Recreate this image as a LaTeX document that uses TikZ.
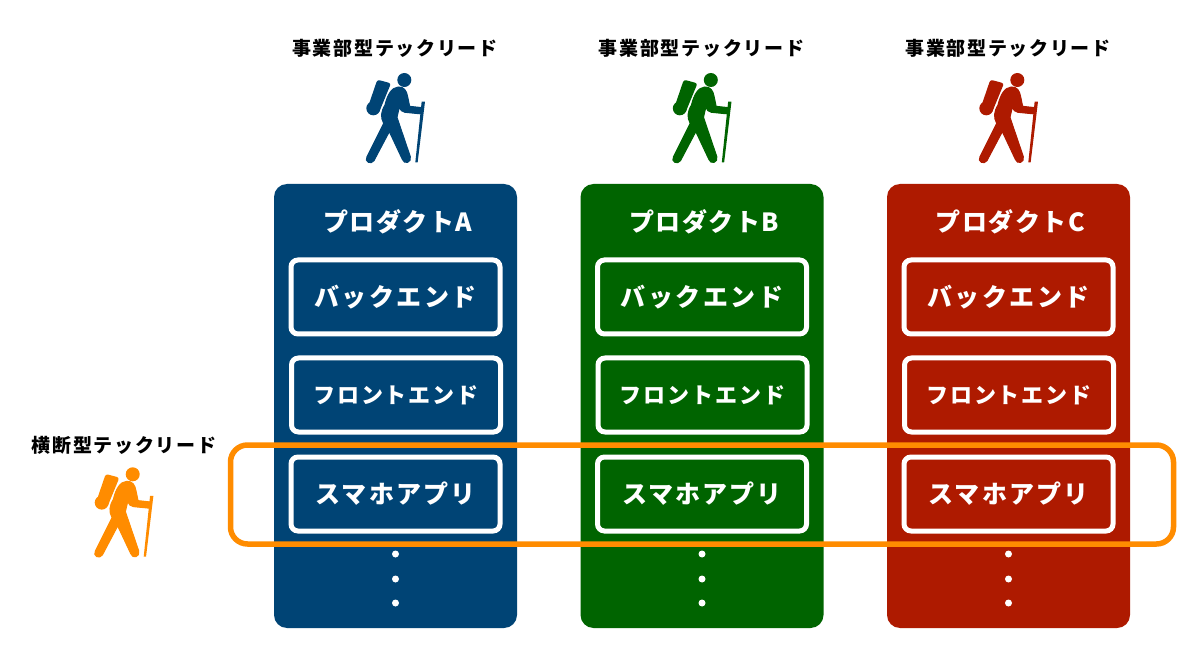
\documentclass[tikz,border=0pt]{standalone}
\usepackage{fontspec}
\setmainfont{Noto Sans CJK JP}
\definecolor{cblue}{HTML}{004475}
\definecolor{cgreen}{HTML}{006400}
\definecolor{cred}{HTML}{AE1A00}
\definecolor{corange}{HTML}{FF8C00}
\newcommand{\txt}[2]{\fontsize{#1}{#1}\selectfont\addfontfeatures{LetterSpace=#2}}
\tikzset{
  x=1pt,y=-1pt,
  panel/.style={rectangle,rounded corners=13pt,minimum width=243pt,minimum height=444pt,inner sep=0pt,draw=none},
  inbox/.style={rectangle,rounded corners=7pt,draw=white,line width=5pt,minimum width=209pt,minimum height=74pt,inner sep=0pt},
  whitetext/.style={text=white,font=\bfseries},
  leadlabel/.style={text=black,inner sep=0pt,font=\bfseries\txt{19}{9}},
  hiker/.pic={
    \begin{scope}[x=0.3333pt,y=-0.3333pt,fill=#1,draw=#1,line join=round]
      \fill (403,150) circle[radius=21];
      \fill (310,235) circle[radius=21];
      \fill[rounded corners=2.5pt] (322,149) -- (363,160) -- (326,250) -- (296,225) -- cycle;
      \filldraw[line width=1pt] (345,225) .. controls (352,195) and (365,172) .. (385,171)
        .. controls (402,170) and (410,182) .. (413,200)
        -- (419,229) -- (456,233) -- (456,252) -- (405,247)
        .. controls (395,246) and (392,240) .. (388,232)
        -- (381,262) -- (421,380)
        .. controls (426,398) and (402,405) .. (397,388)
        -- (358,305) -- (312,392)
        .. controls (303,406) and (282,395) .. (291,380)
        -- (341,280)
        .. controls (331,262) and (333,245) .. (345,225) -- cycle;
      \fill (455,215) -- (465,215) -- (443,397) -- (436,397) -- cycle;
    \end{scope}
  }
}
\begin{document}
\begin{tikzpicture}
\useasboundingbox (0,0) rectangle (1200,660);
\fill[white] (0,0) rectangle (1200,660);
\foreach \n/\dx/\c/\L in {a/0/cblue/A,b/306.5/cgreen/B,c/613/cred/C}{
  \node[panel,fill=\c] (panel\n) at (395.5+\dx,406) {};
  \node[whitetext,inner sep=0pt] (title\n) at (397.5+\dx,222) {\txt{25}{6}プロダクト\L};
  \node[inbox,whitetext] (be\n) at (395.5+\dx,297) {\txt{25}{10}バックエンド};
  \node[inbox,whitetext] (fe\n) at (396+\dx,395) {\txt{22}{9}フロントエンド};
  \node[inbox,whitetext] (app\n) at (395.5+\dx,494) {\txt{25}{8.5}スマホアプリ};
  \foreach \k/\y in {1/554,2/579,3/603}
    \fill[white] (395.5+\dx,\y) circle[radius=3.5];
  \node[leadlabel] (lead\n) at (395+\dx,48) {事業部型テックリード};
  \path (270+\dx,30) pic {hiker=\c};
}
\node[leadlabel] (leadx) at (124,445) {横断型テックリード};
\path (-1.6,424.3) pic {hiker=corange};
\node[rectangle,rounded corners=17pt,draw=corange,line width=5.5pt,minimum width=943pt,minimum height=99pt,inner sep=0pt] (cross) at (702,494.5) {};
\end{tikzpicture}
\end{document}
